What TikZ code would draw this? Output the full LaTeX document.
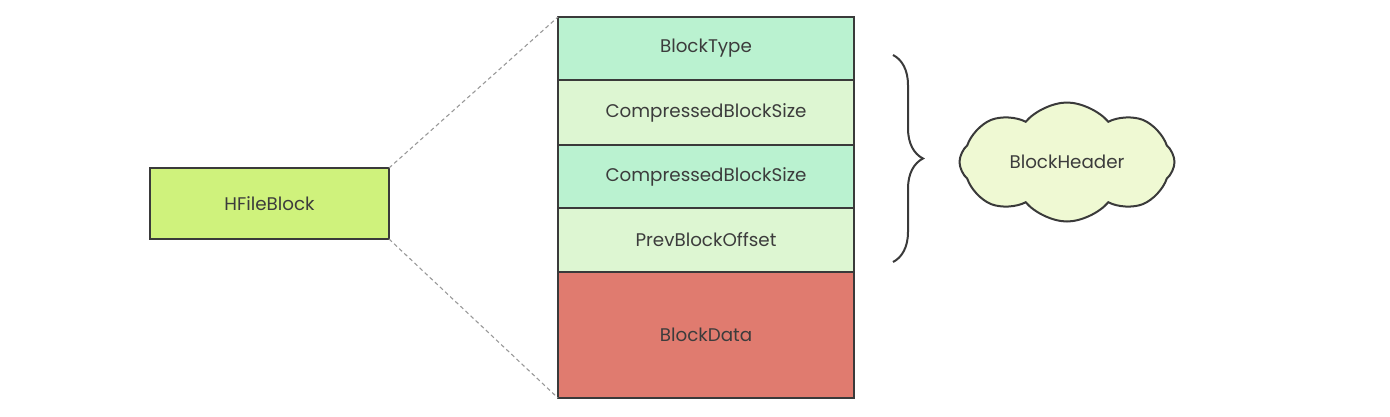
\documentclass[tikz,border=0pt]{standalone}
\usepackage{fontspec}
\setmainfont{Poppins}
\usetikzlibrary{shapes.symbols,decorations.pathreplacing}
\definecolor{linegray}{HTML}{3A3A3A}
\definecolor{textgray}{HTML}{3C3C3C}
\definecolor{limefill}{HTML}{CFF27C}
\definecolor{mintfill}{HTML}{BAF2D0}
\definecolor{palefill}{HTML}{DDF6D2}
\definecolor{datafill}{HTML}{E07B6F}
\definecolor{cloudfill}{HTML}{EFF9D3}
\tikzset{
  field/.style={draw=linegray,line width=2pt,inner sep=0pt,outer sep=0pt,
    minimum width=296pt,text=textgray,font=\fontsize{18.3}{21}\selectfont},
  zoomline/.style={draw=gray!80,line width=1.1pt,dash pattern=on 4pt off 3pt}
}
\begin{document}
\begin{tikzpicture}[x=1pt,y=-1pt]
      \useasboundingbox (0,0) rectangle (1390,416);
      \node[field,fill=limefill,minimum width=239pt,minimum height=71pt]
        (hfile) at (269.5,203.5) {HFileBlock};
      \node[field,fill=mintfill,minimum height=63pt] (type) at (706,48.5) {BlockType};
      \node[field,fill=palefill,minimum height=65pt] (csize) at (706,112.5) {CompressedBlockSize};
      \node[field,fill=mintfill,minimum height=63pt] (usize) at (706,176.5) {CompressedBlockSize};
      \node[field,fill=palefill,minimum height=64pt] (prev) at (706,240) {PrevBlockOffset};
      \node[field,fill=datafill,minimum height=126pt] (data) at (706,335) {BlockData};
      \node[cloud,cloud puffs=8,cloud puff arc=100,aspect=1.8,draw=linegray,
        line width=2pt,fill=cloudfill,minimum width=215pt,minimum height=119pt,
        inner sep=0pt,text=textgray,font=\fontsize{18.3}{21}\selectfont]
        (header) at (1067,162) {BlockHeader};
      \coordinate (btop) at (893,55);
      \coordinate (bbot) at (893,262);
      \begin{scope}[-]
        \draw[zoomline] (hfile.north east) to (type.north west);
        \draw[zoomline] (hfile.south east) to (data.south west);
        \draw[linegray,line width=2pt,decorate,
          decoration={brace,amplitude=30pt}] (btop) to (bbot);
      \end{scope}
    \end{tikzpicture}
\end{document}
